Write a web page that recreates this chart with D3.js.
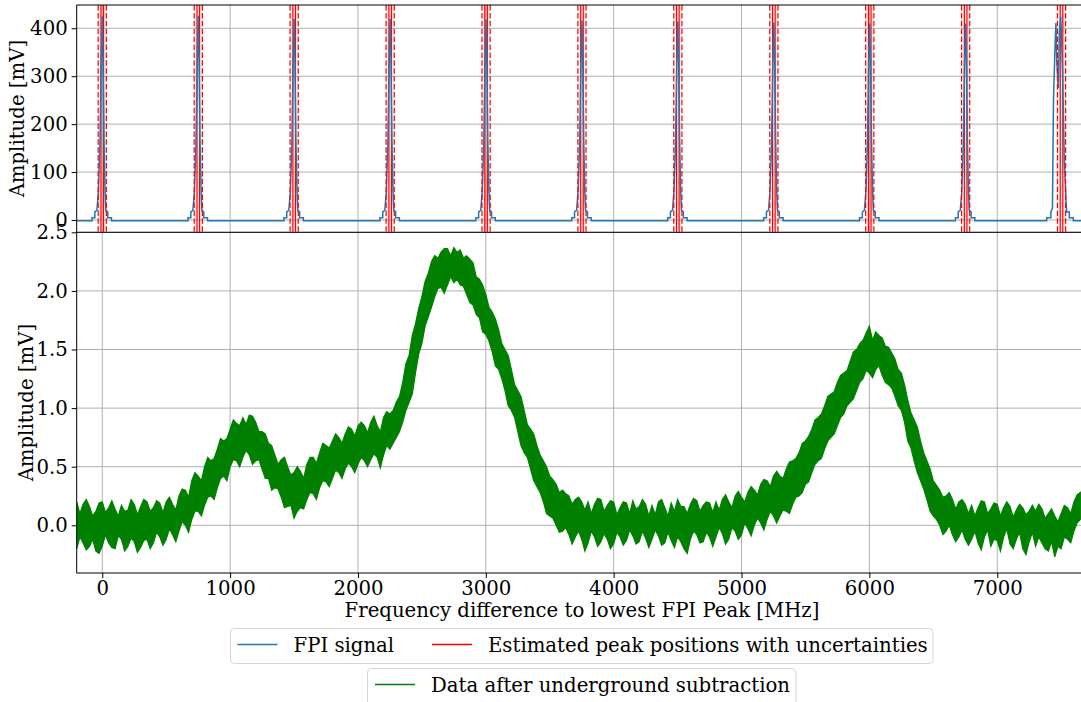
<!DOCTYPE html>
<html>
<head>
<meta charset="utf-8">
<script src="https://cdn.jsdelivr.net/npm/d3@7"></script>
<style>
  html, body { margin: 0; padding: 0; background: #fff; }
  svg { display: block; }
  text { font-family: "DejaVu Serif", serif; fill: #000; }
</style>
</head>
<body>
<svg id="chart" width="1081" height="702"></svg>
<script>
// --- data ---

// FPI peaks (MHz) and their heights (mV)
const peakPositions = [0, 751, 1501, 2252, 3002, 3752, 4502, 5253, 6003, 6753]
const peakHeights = [425, 426, 420, 420, 418, 416, 414, 412, 410, 410]
// typical peak shape: offset from peak (MHz) -> level (mV), tip handled separately
const shapeLeftOffsets = [-80, -80, -58, -58, -42, -30, -18, -8]
const shapeLeftLevels = [-1.5, 5, 5, 17, 20, 60, 160, 330]
const shapeRightOffsets = [6, 14, 22, 28, 43, 43, 72, 72]
const shapeRightLevels = [330, 160, 60, 20, 17, 5, 5, -1.5]
// the last peak is split in two tops
const lastPeakFreq = [7387, 7387, 7420, 7420, 7432, 7440, 7452, 7459, 7466, 7478, 7486, 7497, 7510, 7525, 7540, 7544, 7564, 7564, 7595, 7595]
const lastPeakLevel = [-1.5, 5, 5, 17, 25, 250, 360, 411, 330, 275, 390, 425, 320, 120, 30, 17, 17, 5, 5, -1.5]
const baselineLevel = -1.5

// estimated peak positions with uncertainties (MHz)
const estimatedPeaks = [0, 751, 1501, 2252, 3002, 3752, 4502, 5253, 6003, 6753, 7503]
const estimateSplit = 10
const estimateUncert = 32

// data after underground subtraction: lower / upper edge of the noise band, every 25 MHz from -200
const greenLow = [
  -0.20, -0.10, -0.15, -0.21, -0.18, -0.12, -0.22, -0.24, -0.18, -0.08, -0.15, -0.19, -0.20, -0.09, -0.12, -0.22, -0.18, -0.11, -0.14, -0.23,
  -0.19, -0.13, -0.12, -0.20, -0.15, -0.06, -0.10, -0.17, -0.12, -0.03, -0.08, -0.14, -0.05, 0.03, 0.00, -0.06, 0.05, 0.12, 0.12, 0.08,
  0.17, 0.24, 0.25, 0.22, 0.32, 0.40, 0.42, 0.38, 0.50, 0.56, 0.55, 0.50, 0.58, 0.64, 0.60, 0.52, 0.55, 0.56, 0.48, 0.40,
  0.40, 0.30, 0.32, 0.31, 0.24, 0.15, 0.16, 0.17, 0.06, 0.12, 0.15, 0.14, 0.22, 0.28, 0.27, 0.22, 0.32, 0.38, 0.37, 0.33,
  0.40, 0.47, 0.45, 0.40, 0.48, 0.53, 0.50, 0.45, 0.52, 0.58, 0.55, 0.50, 0.56, 0.61, 0.58, 0.49, 0.60, 0.68, 0.65, 0.70,
  0.75, 0.80, 0.88, 0.98, 1.05, 1.12, 1.30, 1.46, 1.55, 1.70, 1.78, 1.86, 1.95, 2.02, 2.03, 1.98, 2.05, 2.12, 2.07, 2.10,
  2.05, 2.04, 1.97, 1.90, 1.88, 1.80, 1.77, 1.65, 1.63, 1.57, 1.48, 1.36, 1.33, 1.25, 1.15, 1.02, 0.98, 0.92, 0.80, 0.68,
  0.62, 0.58, 0.48, 0.38, 0.33, 0.28, 0.20, 0.10, 0.08, 0.06, 0.00, -0.06, -0.05, -0.02, -0.08, -0.16, -0.10, -0.05, -0.12, -0.22,
  -0.15, -0.05, -0.10, -0.18, -0.14, -0.07, -0.12, -0.20, -0.16, -0.06, -0.10, -0.17, -0.13, -0.04, -0.09, -0.16, -0.14, -0.05, -0.11, -0.19,
  -0.12, -0.04, -0.09, -0.17, -0.15, -0.06, -0.13, -0.19, -0.10, -0.14, -0.20, -0.24, -0.12, -0.05, -0.08, -0.15, -0.14, -0.06, -0.10, -0.18,
  -0.10, -0.02, -0.07, -0.16, -0.12, -0.02, -0.05, -0.12, -0.08, 0.02, -0.03, -0.09, 0.00, 0.06, 0.02, -0.04, 0.05, 0.12, 0.08, 0.02,
  0.08, 0.13, 0.12, 0.10, 0.18, 0.24, 0.25, 0.28, 0.35, 0.37, 0.45, 0.52, 0.55, 0.57, 0.65, 0.72, 0.75, 0.78, 0.85, 0.92,
  0.95, 1.02, 1.05, 1.08, 1.15, 1.22, 1.25, 1.32, 1.30, 1.26, 1.33, 1.36, 1.28, 1.22, 1.20, 1.17, 1.10, 1.02, 0.98, 0.88,
  0.72, 0.66, 0.55, 0.45, 0.38, 0.31, 0.22, 0.12, 0.08, 0.05, 0.00, -0.08, -0.05, 0.00, -0.08, -0.14, -0.10, -0.04, -0.12, -0.17,
  -0.12, -0.05, -0.15, -0.21, -0.10, -0.04, -0.18, -0.12, -0.13, -0.22, -0.10, -0.03, -0.16, -0.20, -0.12, -0.06, -0.20, -0.25, -0.14, -0.06,
  -0.18, -0.10, -0.15, -0.20, -0.22, -0.14, -0.27, -0.18, -0.20, -0.10, -0.12, -0.15, -0.05, 0.02, 0.05
]
const greenHigh = [
  0.20, 0.10, 0.18, 0.22, 0.16, 0.08, 0.12, 0.19, 0.20, 0.11, 0.15, 0.21, 0.14, 0.08, 0.17, 0.12, 0.13, 0.22, 0.18, 0.09,
  0.16, 0.22, 0.20, 0.12, 0.15, 0.21, 0.19, 0.11, 0.20, 0.24, 0.18, 0.13, 0.25, 0.31, 0.30, 0.24, 0.38, 0.45, 0.42, 0.38,
  0.50, 0.58, 0.55, 0.57, 0.65, 0.74, 0.72, 0.74, 0.82, 0.90, 0.87, 0.85, 0.92, 0.86, 0.94, 0.93, 0.88, 0.80, 0.80, 0.78,
  0.70, 0.68, 0.60, 0.52, 0.56, 0.58, 0.50, 0.43, 0.45, 0.50, 0.46, 0.40, 0.52, 0.58, 0.58, 0.53, 0.62, 0.70, 0.68, 0.66,
  0.72, 0.78, 0.75, 0.70, 0.78, 0.84, 0.82, 0.76, 0.85, 0.88, 0.85, 0.79, 0.88, 0.93, 0.85, 0.80, 0.92, 0.97, 0.95, 0.98,
  1.05, 1.10, 1.22, 1.38, 1.45, 1.62, 1.72, 1.85, 1.95, 2.08, 2.15, 2.25, 2.30, 2.28, 2.33, 2.36, 2.36, 2.30, 2.37, 2.33,
  2.35, 2.28, 2.30, 2.27, 2.24, 2.12, 2.10, 2.05, 1.97, 1.86, 1.82, 1.76, 1.67, 1.55, 1.50, 1.45, 1.33, 1.20, 1.15, 1.10,
  0.98, 0.86, 0.82, 0.78, 0.68, 0.60, 0.55, 0.50, 0.42, 0.39, 0.35, 0.28, 0.30, 0.27, 0.25, 0.18, 0.22, 0.24, 0.20, 0.13,
  0.20, 0.10, 0.18, 0.23, 0.22, 0.12, 0.17, 0.21, 0.20, 0.09, 0.15, 0.20, 0.19, 0.10, 0.21, 0.14, 0.16, 0.22, 0.18, 0.08,
  0.17, 0.09, 0.20, 0.22, 0.15, 0.08, 0.19, 0.12, 0.22, 0.16, 0.16, 0.10, 0.18, 0.23, 0.21, 0.12, 0.17, 0.20, 0.19, 0.11,
  0.20, 0.13, 0.22, 0.26, 0.20, 0.15, 0.25, 0.29, 0.24, 0.20, 0.28, 0.33, 0.30, 0.26, 0.35, 0.39, 0.38, 0.33, 0.42, 0.46,
  0.42, 0.40, 0.48, 0.54, 0.55, 0.57, 0.62, 0.70, 0.72, 0.76, 0.82, 0.90, 0.92, 0.95, 1.02, 1.10, 1.12, 1.14, 1.22, 1.28,
  1.30, 1.32, 1.40, 1.48, 1.50, 1.55, 1.58, 1.64, 1.70, 1.58, 1.65, 1.62, 1.60, 1.53, 1.52, 1.47, 1.42, 1.33, 1.30, 1.20,
  1.07, 0.96, 0.90, 0.84, 0.72, 0.62, 0.55, 0.48, 0.38, 0.34, 0.30, 0.24, 0.25, 0.28, 0.22, 0.14, 0.20, 0.22, 0.18, 0.10,
  0.17, 0.08, 0.15, 0.21, 0.20, 0.10, 0.14, 0.19, 0.18, 0.08, 0.15, 0.20, 0.16, 0.07, 0.13, 0.18, 0.15, 0.09, 0.12, 0.17,
  0.12, 0.18, 0.14, 0.06, 0.10, 0.14, 0.08, 0.03, 0.10, 0.17, 0.15, 0.10, 0.20, 0.26, 0.28
]
const greenFreq = greenLow.map((d, i) => -200 + 25 * i)

// ticks
const xTicks = [0, 1000, 2000, 3000, 4000, 5000, 6000, 7000]
const topTicks = [0, 100, 200, 300, 400]
const bottomTicks = [0.0, 0.5, 1.0, 1.5, 2.0, 2.5]

// --- drawing ---
const svg = d3.select("#chart")
const left = 76.7, right = 1081.6
const top1 = 5, bot1 = 232.3, top2 = 232.3, bot2 = 573
const fontSize = 19.7
const gridColor = "#b0b0b0"

const x = d3.scaleLinear().domain([-200, 7660]).range([left, right])
const yTop = d3.scaleLinear().domain([-25.6, 448.5]).range([bot1, top1])
const yBot = d3.scaleLinear().domain([-0.407, 2.5]).range([bot2, top2])

const defs = svg.append("defs")
defs.append("clipPath").attr("id", "clipTop").append("rect")
    .attr("x", left).attr("y", top1).attr("width", right - left).attr("height", bot1 - top1)
defs.append("clipPath").attr("id", "clipBot").append("rect")
    .attr("x", left).attr("y", top2).attr("width", right - left).attr("height", bot2 - top2)

function grid (g, y, yTicks, y0, y1) {
    g.selectAll(".gx").data(xTicks).enter().append("line")
        .attr("x1", d => x(d)).attr("x2", d => x(d))
        .attr("y1", y0).attr("y2", y1)
        .attr("stroke", gridColor).attr("stroke-width", 1)
    g.selectAll(".gy").data(yTicks).enter().append("line")
        .attr("x1", left).attr("x2", right)
        .attr("y1", d => y(d)).attr("y2", d => y(d))
        .attr("stroke", gridColor).attr("stroke-width", 1)
}

function yAxis (y, ticks, fmt) {
    const ax = svg.append("g").attr("transform", "translate(" + left + ",0)")
        .call(d3.axisLeft(y).tickValues(ticks).tickSize(5).tickPadding(4).tickFormat(fmt))
    ax.select(".domain").remove()
    ax.selectAll("text").style("font-size", fontSize + "px").style("font-family", "DejaVu Serif")
    ax.selectAll("line").attr("stroke", "#000").attr("stroke-width", 1)
}

// top panel
const gTop = svg.append("g")
grid(gTop, yTop, topTicks, top1, bot1)

const plotTop = svg.append("g").attr("clip-path", "url(#clipTop)")

// shaded uncertainty bands
plotTop.selectAll(".span").data(estimatedPeaks).enter().append("rect")
    .attr("x", d => x(d - estimateUncert))
    .attr("width", d => x(d + estimateUncert) - x(d - estimateUncert))
    .attr("y", top1).attr("height", bot1 - top1)
    .attr("fill", "rgba(255,0,0,0.07)")

const solid = estimatedPeaks.flatMap(p => [p - estimateSplit, p + estimateSplit])
const dashed = estimatedPeaks.flatMap(p => [p - estimateUncert, p + estimateUncert])
plotTop.selectAll(".pk").data(solid).enter().append("line")
    .attr("x1", d => x(d)).attr("x2", d => x(d)).attr("y1", top1).attr("y2", bot1)
    .attr("stroke", "red").attr("stroke-width", 1.2)

// FPI signal
const fpi = [[-200, baselineLevel]]
peakPositions.forEach((p, i) => {
    shapeLeftOffsets.forEach((o, j) => fpi.push([p + o, shapeLeftLevels[j]]))
    fpi.push([p, peakHeights[i]])
    shapeRightOffsets.forEach((o, j) => fpi.push([p + o, shapeRightLevels[j]]))
})
lastPeakFreq.forEach((f, j) => fpi.push([f, lastPeakLevel[j]]))
fpi.push([7700, baselineLevel])

plotTop.append("path").datum(fpi)
    .attr("fill", "none").attr("stroke", "#1f77b4").attr("stroke-width", 1.5)
    .attr("d", d3.line().x(d => x(d[0])).y(d => yTop(d[1])))

plotTop.selectAll(".pkd").data(dashed).enter().append("line")
    .attr("x1", d => x(d)).attr("x2", d => x(d)).attr("y1", top1).attr("y2", bot1)
    .attr("stroke", "red").attr("stroke-width", 1.2).attr("stroke-dasharray", "5.5,2.4")

yAxis(yTop, topTicks, d3.format("d"))

// bottom panel
const gBot = svg.append("g")
grid(gBot, yBot, bottomTicks, top2, bot2)

const plotBot = svg.append("g").attr("clip-path", "url(#clipBot)")
const green = greenFreq.map((f, i) => [f, greenLow[i], greenHigh[i]])
plotBot.append("path").datum(green)
    .attr("fill", "green").attr("stroke", "green").attr("stroke-width", 1.2)
    .attr("d", d3.area().x(d => x(d[0])).y0(d => yBot(d[1])).y1(d => yBot(d[2])))

yAxis(yBot, bottomTicks, d3.format(".1f"))

const xAx = svg.append("g").attr("transform", "translate(0," + bot2 + ")")
    .call(d3.axisBottom(x).tickValues(xTicks).tickSize(5).tickPadding(3).tickFormat(d3.format("d")))
xAx.select(".domain").remove()
xAx.selectAll("text").style("font-size", fontSize + "px").style("font-family", "DejaVu Serif")
xAx.selectAll("line").attr("stroke", "#000")

// spines
const spine = (x1, y1, x2, y2) => svg.append("line")
    .attr("x1", x1).attr("y1", y1).attr("x2", x2).attr("y2", y2)
    .attr("stroke", "#000").attr("stroke-width", 1)
spine(left, top1, right, top1)
spine(left, bot1, right, bot1)
spine(left, bot2, right, bot2)
spine(left, top1, left, bot2)

// labels
svg.append("text").attr("transform", "translate(24," + ((top1 + bot1) / 2) + ") rotate(-90)")
    .attr("text-anchor", "middle").style("font-size", fontSize + "px").text("Amplitude [mV]")
svg.append("text").attr("transform", "translate(33," + ((top2 + bot2) / 2) + ") rotate(-90)")
    .attr("text-anchor", "middle").style("font-size", fontSize + "px").text("Amplitude [mV]")
svg.append("text").attr("x", 582).attr("y", 617)
    .attr("text-anchor", "middle").style("font-size", fontSize + "px")
    .text("Frequency difference to lowest FPI Peak [MHz]")

// legends
function legend (x0, y0, w, h, items) {
    const g = svg.append("g")
    g.append("rect").attr("x", x0).attr("y", y0).attr("width", w).attr("height", h)
        .attr("rx", 4).attr("fill", "rgba(255,255,255,0.8)").attr("stroke", "#d6d6d6")
    items.forEach(it => {
        g.append("line").attr("x1", it.x).attr("x2", it.x + 40)
            .attr("y1", y0 + 16).attr("y2", y0 + 16)
            .attr("stroke", it.color).attr("stroke-width", 1.5)
        g.append("text").attr("x", it.x + 56).attr("y", y0 + 23.5)
            .style("font-size", fontSize + "px").text(it.label)
    })
}
legend(230.5, 628.5, 702.5, 35, [
    {x: 237.5, color: "#1f77b4", label: "FPI signal"},
    {x: 432, color: "red", label: "Estimated peak positions with uncertainties"}
])
legend(367.5, 668.5, 428.5, 40, [
    {x: 375, color: "green", label: "Data after underground subtraction"}
])
</script>
</body>
</html>
